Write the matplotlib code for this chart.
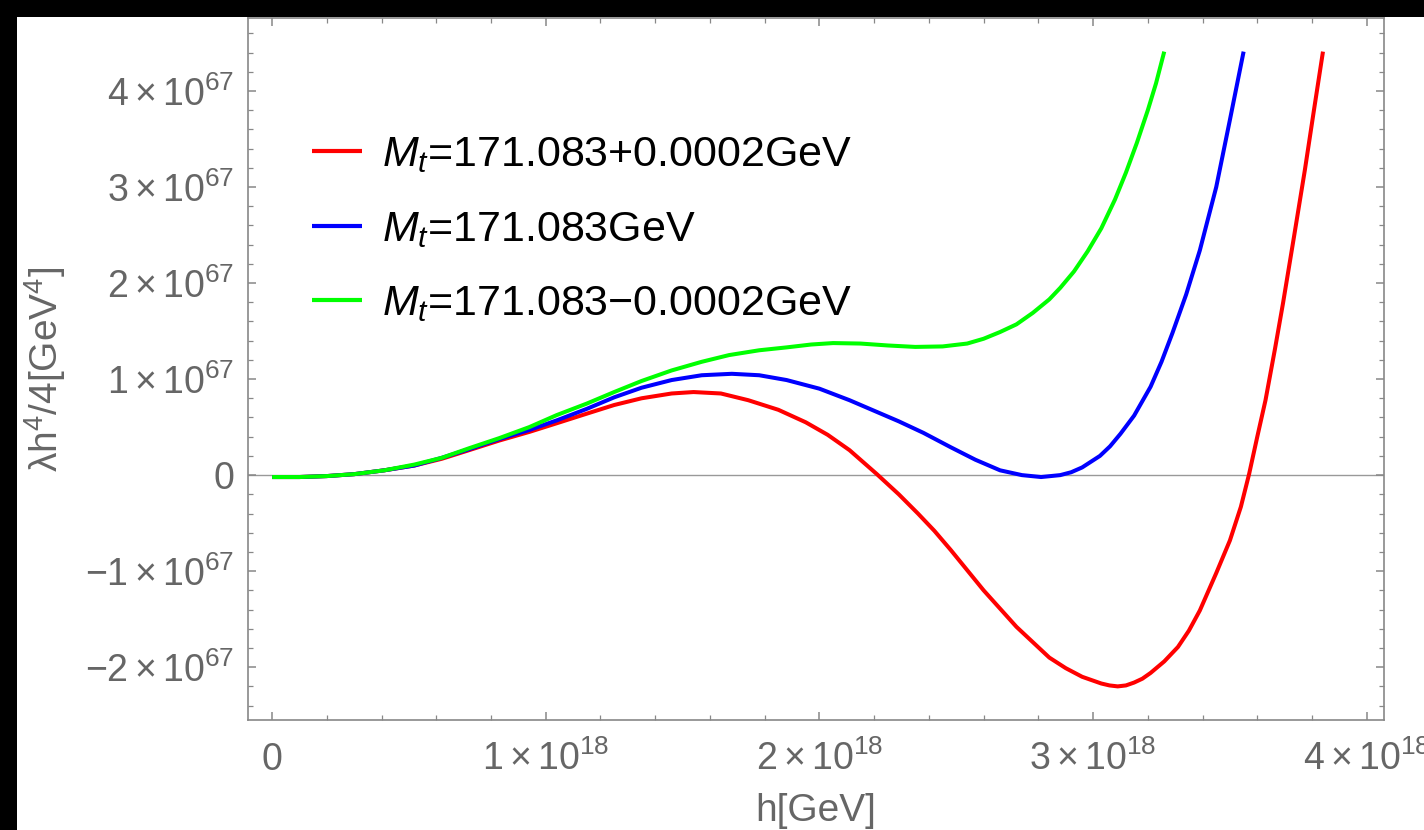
import numpy as np
import matplotlib
matplotlib.use("Agg")
import matplotlib.pyplot as plt
from matplotlib.patches import Rectangle

plt.rcParams['font.family'] = ['Liberation Sans', 'DejaVu Sans']
plt.rcParams['mathtext.fontset'] = 'custom'
plt.rcParams['mathtext.rm'] = 'Liberation Sans'
plt.rcParams['mathtext.it'] = 'Liberation Sans:italic'
plt.rcParams['mathtext.bf'] = 'Liberation Sans:bold'

# h in units of 1e18 GeV, potential in units of 1e67 GeV^4
h_red = [0.00, 0.10, 0.20, 0.30, 0.41, 0.52, 0.62, 0.72, 0.83, 0.94, 1.04, 1.15,
         1.25, 1.35, 1.46, 1.54, 1.64, 1.74, 1.85, 1.95, 2.03, 2.11, 2.21, 2.29,
         2.36, 2.42, 2.48, 2.60, 2.72, 2.84, 2.90, 2.96, 3.00, 3.03, 3.06, 3.09,
         3.12, 3.15, 3.18, 3.21, 3.26, 3.31, 3.35, 3.39, 3.45, 3.50, 3.54, 3.57,
         3.60, 3.63, 3.665, 3.694, 3.734, 3.774, 3.807, 3.84]
v_red = [-0.02, -0.02, -0.01, 0.01, 0.05, 0.10, 0.17, 0.26, 0.36, 0.45, 0.54, 0.64,
         0.73, 0.80, 0.85, 0.865, 0.85, 0.78, 0.68, 0.55, 0.42, 0.26, 0.01, -0.20,
         -0.40, -0.58, -0.78, -1.20, -1.58, -1.90, -2.01, -2.10, -2.14, -2.17, -2.19, -2.20,
         -2.19, -2.16, -2.12, -2.06, -1.94, -1.79, -1.62, -1.41, -1.02, -0.68, -0.33, 0.01,
         0.40, 0.78, 1.32, 1.79, 2.48, 3.18, 3.80, 4.41]

h_blue = [0.00, 0.10, 0.20, 0.30, 0.41, 0.52, 0.62, 0.72, 0.83, 0.94, 1.04, 1.15,
          1.25, 1.35, 1.46, 1.57, 1.68, 1.78, 1.88, 2.00, 2.11, 2.20, 2.29, 2.38,
          2.48, 2.57, 2.66, 2.74, 2.81, 2.88, 2.92, 2.96, 3.025, 3.062, 3.10, 3.15,
          3.21, 3.25, 3.29, 3.34, 3.39, 3.45, 3.50, 3.55]
v_blue = [-0.02, -0.02, -0.01, 0.01, 0.05, 0.10, 0.18, 0.27, 0.375, 0.47, 0.57, 0.69,
          0.81, 0.91, 0.99, 1.04, 1.055, 1.04, 0.99, 0.90, 0.78, 0.67, 0.56, 0.44,
          0.29, 0.16, 0.05, 0.00, -0.02, 0.00, 0.03, 0.08, 0.20, 0.30, 0.43, 0.62,
          0.92, 1.18, 1.48, 1.88, 2.34, 3.00, 3.70, 4.41]

h_green = [0.00, 0.10, 0.20, 0.30, 0.41, 0.52, 0.62, 0.72, 0.83, 0.94, 1.04, 1.15,
           1.25, 1.35, 1.46, 1.57, 1.67, 1.78, 1.88, 1.97, 2.05, 2.15, 2.25, 2.35,
           2.45, 2.54, 2.60, 2.66, 2.72, 2.78, 2.84, 2.88, 2.93, 2.98, 3.03, 3.08,
           3.12, 3.16, 3.20, 3.23, 3.26]
v_green = [-0.02, -0.02, -0.01, 0.01, 0.05, 0.11, 0.18, 0.28, 0.385, 0.50, 0.625, 0.745,
           0.865, 0.98, 1.09, 1.18, 1.25, 1.30, 1.33, 1.36, 1.375, 1.37, 1.35, 1.335,
           1.34, 1.37, 1.42, 1.49, 1.57, 1.69, 1.83, 1.95, 2.12, 2.33, 2.57, 2.87,
           3.15, 3.46, 3.80, 4.08, 4.41]

labels = [r"$M_t$=171.083+0.0002GeV", r"$M_t$=171.083GeV", r"$M_t$=171.083$-$0.0002GeV"]
colors = ["#FF0000", "#0000FF", "#00FF00"]

xticks = [0, 1, 2, 3, 4]
xticklabels = ["0"] + [rf"${k}\times10^{{18}}$" for k in xticks[1:]]
yticks = [-2, -1, 0, 1, 2, 3, 4]
yticklabels = [rf"${k}\times10^{{67}}$" if k != 0 else "0" for k in yticks]

gray = "#666666"

fig = plt.figure(figsize=(14.24, 8.30), dpi=100)
fig.patch.set_facecolor("black")
fig.add_artist(Rectangle((17 / 1424, 0), 1, 1 - 17 / 830, transform=fig.transFigure,
                         facecolor="white", edgecolor="none", zorder=-5))

ax = fig.add_axes([248 / 1424, 110 / 830, 1136 / 1424, 702 / 830])
ax.axhline(0, color="#999999", linewidth=1.0, zorder=1)

for h, v, lab, c in zip([h_red, h_blue, h_green], [v_red, v_blue, v_green], labels, colors):
    ax.plot(np.array(h) * 1e18, np.array(v) * 1e67, color=c, linewidth=2.9,
            label=lab, solid_capstyle="butt", solid_joinstyle="round", zorder=3)

ax.set_xlim(-0.088e18, 4.063e18)
ax.set_ylim(-2.55e67, 4.76e67)

ax.set_xticks([t * 1e18 for t in xticks])
ax.set_xticklabels(xticklabels)
ax.set_xticks(np.arange(0, 4.01, 0.2) * 1e18, minor=True)
ax.set_yticks([t * 1e67 for t in yticks])
ax.set_yticklabels(yticklabels)
ax.set_yticks(np.arange(-2.4, 4.61, 0.2) * 1e67, minor=True)

for s in ax.spines.values():
    s.set_color("#888888")
    s.set_linewidth(1.2)

ax.tick_params(which="both", direction="in", top=True, right=True, color="#888888",
               labelcolor=gray, labelsize=27)
ax.tick_params(which="major", length=6, width=1.1)
ax.tick_params(which="minor", length=3.5, width=0.9)
ax.tick_params(axis="x", pad=36)
ax.tick_params(axis="y", pad=10)
for lbl in ax.get_xticklabels():
    lbl.set_va("baseline")

ax.set_xlabel("h[GeV]", fontsize=28, color=gray)
ax.xaxis.set_label_coords(0.5, -0.104)
ax.set_ylabel(r"λh$^4$/4[GeV$^4$]", fontsize=28, color=gray, labelpad=12)

leg = ax.legend(loc="upper left", bbox_to_anchor=(0.056, 0.833), frameon=False,
                fontsize=31, handlelength=1.16, handletextpad=0.47, labelspacing=0.8,
                borderpad=0, borderaxespad=0)
for line in leg.get_lines():
    line.set_linewidth(3.0)

fig.savefig("out.png", dpi=100, facecolor=fig.get_facecolor())
